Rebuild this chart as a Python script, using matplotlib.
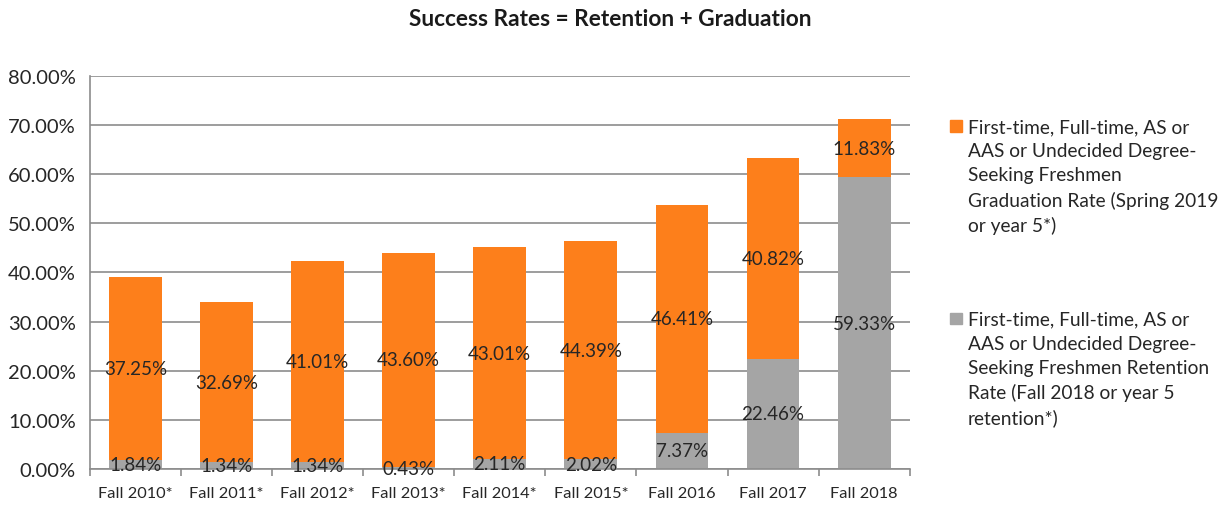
import matplotlib.pyplot as plt
from matplotlib.patches import Rectangle
import numpy as np

plt.rcParams['font.family'] = ['Lato', 'DejaVu Sans']

# Chart data.
terms = ['Fall 2010*', 'Fall 2011*', 'Fall 2012*', 'Fall 2013*', 'Fall 2014*',
         'Fall 2015*', 'Fall 2016', 'Fall 2017', 'Fall 2018']
retention = [1.84, 1.34, 1.34, 0.43, 2.11, 2.02, 7.37, 22.46, 59.33]
graduation = [37.25, 32.69, 41.01, 43.60, 43.01, 44.39, 46.41, 40.82, 11.83]
grad_label = ('First-time, Full-time, AS or\nAAS or Undecided Degree-\n'
              'Seeking Freshmen\nGraduation Rate (Spring 2019\nor year 5*)')
ret_label = ('First-time, Full-time, AS or\nAAS or Undecided Degree-\n'
             'Seeking Freshmen Retention\nRate (Fall 2018 or year 5\nretention*)')

orange = '#FD7F1B'
gray = '#A5A5A5'
axis_gray = '#8C8C8C'

fig = plt.figure(figsize=(12.31, 5.06), dpi=100)
ax = fig.add_axes([0.073, 0.071, 0.666, 0.777])

x = np.arange(len(terms))
width = 0.58
b1 = ax.bar(x, retention, width, color=gray, zorder=2)
b2 = ax.bar(x, graduation, width, bottom=retention, color=orange, zorder=2)
ax.bar_label(b1, labels=[f'{v:.2f}%' for v in retention], label_type='center',
             fontsize=13.5, color='#262626', zorder=3)
ax.bar_label(b2, labels=[f'{v:.2f}%' for v in graduation], label_type='center',
             fontsize=13.5, color='#262626', zorder=3)

ax.set_xlim(-0.5, len(terms) - 0.5)
ax.set_ylim(0, 80)
ax.set_yticks(np.arange(0, 81, 10))
ax.set_yticklabels([f'{v:.2f}%' for v in np.arange(0, 81, 10)], fontsize=14.5,
                   color='#262626')
ax.set_xticks(x)
ax.set_xticklabels(terms, fontsize=11.8, color='#262626')
ax.tick_params(axis='x', length=0, pad=12)
ax.tick_params(axis='y', length=0, pad=10)
ax.set_xticks(np.arange(-0.5, len(terms)), minor=True)
ax.tick_params(axis='x', which='minor', length=5, color=axis_gray, width=1.2)
ax.grid(axis='y', color=axis_gray, linewidth=1.2, zorder=0)
for s in ['top', 'right']:
    ax.spines[s].set_visible(False)
for s in ['left', 'bottom']:
    ax.spines[s].set_color(axis_gray)
    ax.spines[s].set_linewidth(1.2)

fig.text(0.496, 0.962, 'Success Rates = Retention + Graduation', ha='center',
         va='center', fontsize=16.3, fontweight='bold', color='#1a1a1a')

# Legend drawn by hand so the swatches sit on the first line.
for ytop, color, label in [(0.765, orange, grad_label), (0.384, gray, ret_label)]:
    fig.patches.append(Rectangle((0.772, ytop - 0.027), 0.0095, 0.023,
                                 transform=fig.transFigure, color=color))
    fig.text(0.786, ytop, label, ha='left', va='top', fontsize=13.8,
             color='#262626', linespacing=1.5)

fig.savefig('out.png', dpi=100)
